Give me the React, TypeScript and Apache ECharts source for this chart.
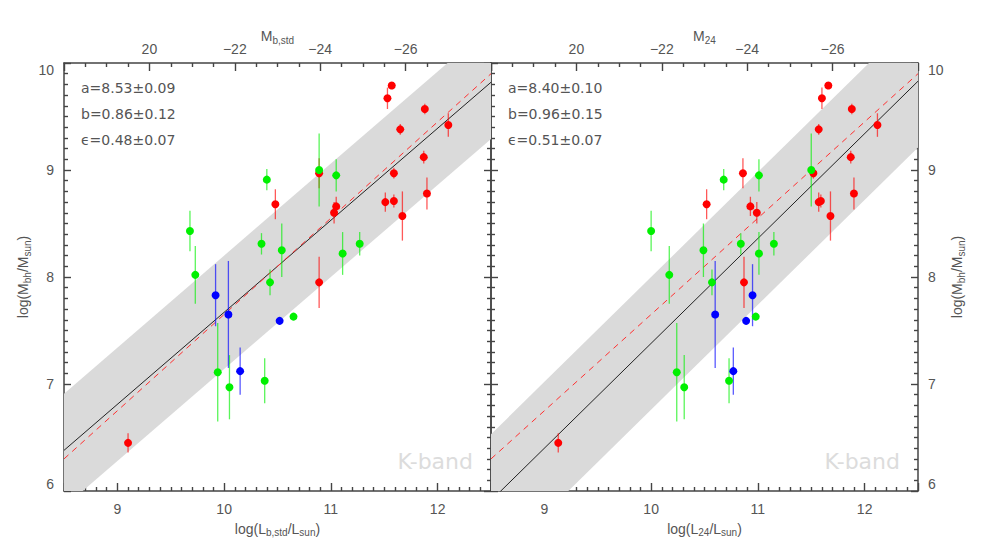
import React, { useEffect, useRef } from "react";
import * as echarts from "echarts";

// ---------- data ----------
// red points
const redY = [6.45, 9.67, 9.79, 9.57, 9.38, 9.42, 9.12, 8.97, 8.97, 8.78, 8.70, 8.71, 8.57, 8.68, 8.66, 8.60, 7.95];
const redXb = [9.10, 11.53, 11.57, 11.88, 11.65, 12.10, 11.87, 11.59, 10.89, 11.90, 11.51, 11.59, 11.67, 10.48, 11.05, 11.03, 10.89];
const redX24 = [9.13, 11.60, 11.66, 11.88, 11.57, 12.12, 11.87, 11.52, 10.86, 11.90, 11.57, 11.59, 11.68, 10.52, 10.93, 10.99, 10.87];
const redErr = [0.09, 0.10, 0.03, 0.05, 0.05, 0.11, 0.06, 0.05, 0.14, 0.15, 0.09, 0.06, 0.23, 0.14, 0.09, 0.10, 0.24];
// green points
const greenY = [9.00, 8.91, 8.95, 8.43, 8.31, 8.25, 8.31, 8.22, 8.02, 7.95, 7.63, 7.11, 6.97, 7.03];
const greenXb = [10.89, 10.40, 11.05, 9.68, 10.35, 10.54, 11.27, 11.11, 9.73, 10.43, 10.65, 9.94, 10.05, 10.38];
const greenX24 = [11.50, 10.68, 11.01, 10.00, 10.84, 10.49, 11.15, 11.01, 10.17, 10.57, 10.98, 10.24, 10.31, 10.73];
const greenErr = [0.34, 0.10, 0.15, 0.19, 0.10, 0.25, 0.11, 0.20, 0.27, 0.12, 0, 0.46, 0.30, 0.21];
// blue points
const blueY = [7.83, 7.65, 7.59, 7.12];
const blueXb = [9.92, 10.04, 10.52, 10.15];
const blueX24 = [10.95, 10.60, 10.89, 10.77];
const blueErr = [0.29, 0.50, 0, 0.22];

// fits: [value at pivot, slope], pivot logL = 11
const fitPivot = 11;
const fitB = [8.53, 0.86];
const fit24 = [8.36, 0.98];
const refLine = [8.55, 0.90];
const bandHalfWidth = [0.53, 0.62];
const xRange = [8.5, 12.5];
const yRange = [6, 10];
const magRange = [18, 28];

const annotB = ["a=8.53±0.09", "b=0.86±0.12", "ϵ=0.48±0.07"];
const annot24 = ["a=8.40±0.10", "b=0.96±0.15", "ϵ=0.51±0.07"];
const bandLabel = "K-band";

// ---------- styles ----------
const FONT = "'Liberation Sans', 'DejaVu Sans', Arial, sans-serif";
const TXT = "#555";
const FRAME = "#444";
const RED = "#ff0000";
const GREEN = "#00f000";
const BLUE = "#0000ff";

const grids = [
  { left: 64, top: 63, width: 427, height: 428 },
  { left: 491, top: 63, width: 427, height: 428 },
];

const richStyles = {
  m: { fontSize: 14, color: TXT, fontFamily: FONT, lineHeight: 16, verticalAlign: "top" },
  s: { fontSize: 10, color: TXT, fontFamily: FONT, lineHeight: 10, padding: [7, 0, 0, 0], verticalAlign: "bottom" },
};

const majorTick = { color: "#444", width: 1.4 };
const minorTickStyle = { color: "#444", width: 1.4 };

function App() {
  const ref = useRef<HTMLDivElement>(null);
  useEffect(() => {
    if (!ref.current) return;
    const chart = echarts.init(ref.current, undefined, { renderer: "svg" });

    const xAxes: any[] = [];
    const yAxes: any[] = [];
    const series: any[] = [];
    const panels = [
      { xs: [redXb, greenXb, blueXb], fit: fitB, bw: bandHalfWidth[0], xname: "{m|log(L}{s|b,std}{m|/L}{s|sun}{m|)}", tname: "{m|M}{s|b,std}", annot: annotB },
      { xs: [redX24, greenX24, blueX24], fit: fit24, bw: bandHalfWidth[1], xname: "{m|log(L}{s|24}{m|/L}{s|sun}{m|)}", tname: "{m|M}{s|24}", annot: annot24 },
    ];
    const ys = [redY, greenY, blueY];
    const errs = [redErr, greenErr, blueErr];
    const colors = [RED, GREEN, BLUE];

    panels.forEach((p, gi) => {
      xAxes.push({
        type: "value", gridIndex: gi, position: "bottom", min: xRange[0], max: xRange[1],
        name: p.xname, nameLocation: "middle", nameGap: 28,
        nameTextStyle: { rich: richStyles },
        axisLine: { show: true, onZero: false, lineStyle: { color: FRAME, width: 1.5 } },
        axisTick: { show: true, inside: true, length: 8, lineStyle: majorTick },
        minorTick: { show: true, splitNumber: 10, length: 4, lineStyle: minorTickStyle },
        splitLine: { show: false },
        axisLabel: {
          show: true, margin: 11, color: TXT, fontSize: 14, fontFamily: FONT,
          showMinLabel: false, showMaxLabel: false,
          formatter: (v: number) => (Number.isInteger(v) ? String(v) : ""),
        },
      });
      xAxes.push({
        type: "value", gridIndex: gi, position: "top", min: magRange[0], max: magRange[1], interval: 2,
        name: p.tname, nameLocation: "middle", nameGap: 18, nameMoveOverlap: false,
        nameTextStyle: { rich: richStyles },
        axisLine: { show: true, onZero: false, lineStyle: { color: FRAME, width: 1.5 } },
        axisTick: { show: true, inside: true, length: 8, lineStyle: majorTick },
        minorTick: { show: true, splitNumber: 4, length: 4, lineStyle: minorTickStyle },
        splitLine: { show: false },
        axisLabel: {
          show: true, margin: 7, color: TXT, fontSize: 14, fontFamily: FONT,
          showMinLabel: false, showMaxLabel: false,
          formatter: (v: number) => (v === 20 ? "20" : "\u2212" + v),
        },
      });
      ["left", "right"].forEach((pos) => {
        const labelled = (gi === 0 && pos === "left") || (gi === 1 && pos === "right");
        yAxes.push({
          type: "value", gridIndex: gi, position: pos, min: yRange[0], max: yRange[1], interval: 1,
          name: labelled ? "{m|log(M}{s|bh}{m|/M}{s|sun}{m|)}" : "",
          nameLocation: "middle", nameGap: 32, nameRotate: 90,
          nameTextStyle: { rich: richStyles },
          axisLine: { show: true, onZero: false, lineStyle: { color: FRAME, width: 1.5 } },
          axisTick: { show: true, inside: true, length: 7, lineStyle: majorTick },
          minorTick: { show: true, splitNumber: 10, length: 4, lineStyle: minorTickStyle },
          splitLine: { show: false },
          axisLabel: {
            show: labelled, margin: 10, color: TXT, fontSize: 14, fontFamily: FONT,
            verticalAlignMinLabel: "bottom", verticalAlignMaxLabel: "top",
          },
        });
      });

      const xi = gi * 2;
      const yi = gi * 2;
      const fit = p.fit;
      const bw = p.bw;
      series.push({
        type: "custom", xAxisIndex: xi, yAxisIndex: yi, clip: true, silent: true, z: 1,
        data: [[xRange[0], xRange[1]]],
        encode: { x: [0, 1] },
        renderItem: (_params: any, api: any) => {
          const x0 = api.value(0);
          const x1 = api.value(1);
          const f = (x: number) => fit[0] + fit[1] * (x - fitPivot);
          const pts = [
            [x0, f(x0) + bw], [x1, f(x1) + bw], [x1, f(x1) - bw], [x0, f(x0) - bw],
          ].map((q) => api.coord(q));
          return { type: "polygon", shape: { points: pts }, style: { fill: "#dadada" } };
        },
      });
      series.push({
        type: "line", xAxisIndex: xi, yAxisIndex: yi, symbol: "none", silent: true, z: 2, clip: true,
        data: xRange.map((x) => [x, fit[0] + fit[1] * (x - fitPivot)]),
        lineStyle: { color: "#222", width: 1 },
      });
      series.push({
        type: "line", xAxisIndex: xi, yAxisIndex: yi, symbol: "none", silent: true, z: 2, clip: true,
        data: xRange.map((x) => [x, refLine[0] + refLine[1] * (x - fitPivot)]),
        lineStyle: { color: "#ff3030", width: 1, type: [6, 5] },
      });
      colors.forEach((c, ci) => {
        const xs = p.xs[ci];
        series.push({
          type: "custom", xAxisIndex: xi, yAxisIndex: yi, silent: true, z: 3,
          data: xs.map((x, i) => [x, ys[ci][i], errs[ci][i]]),
          encode: { x: 0, y: 1 },
          renderItem: (_params: any, api: any) => {
            const x = api.value(0);
            const y = api.value(1);
            const e = api.value(2);
            if (!e) return { type: "group", children: [] };
            const a = api.coord([x, y - e]);
            const b = api.coord([x, y + e]);
            return {
              type: "line",
              shape: { x1: a[0], y1: a[1], x2: b[0], y2: b[1] },
              style: { stroke: c, lineWidth: 1.3, opacity: 0.65 },
            };
          },
        });
        series.push({
          type: "scatter", xAxisIndex: xi, yAxisIndex: yi, z: 4, silent: true,
          symbol: "circle", symbolSize: 8,
          data: xs.map((x, i) => [x, ys[ci][i]]),
          itemStyle: { color: c, opacity: 1 },
        });
      });
    });

    const graphic: any[] = [];
    panels.forEach((p, gi) => {
      const g = grids[gi];
      p.annot.forEach((t, i) => {
        graphic.push({
          type: "text", x: g.left + 17, y: 88 + i * 26, silent: true, z: 10,
          style: {
            text: t, fill: TXT, fontSize: 14, fontFamily: "'DejaVu Sans', sans-serif",
            verticalAlign: "middle", textVerticalAlign: "middle",
          },
        });
      });
      graphic.push({
        type: "text", x: g.left + g.width - 18, y: 461, silent: true, z: 10,
        style: {
          text: bandLabel, fill: "#dcdcdc", fontSize: 22, fontFamily: "'DejaVu Sans', sans-serif",
          align: "right", textAlign: "right", verticalAlign: "middle", textVerticalAlign: "middle",
        },
      });
    });

    chart.setOption({
      animation: false,
      backgroundColor: "#ffffff",
      grid: grids.map((g) => ({ ...g, containLabel: false })),
      xAxis: xAxes,
      yAxis: yAxes,
      series,
      graphic,
    });
    return () => chart.dispose();
  }, []);
  return <div ref={ref} style={{ position: "fixed", left: 0, top: 0, width: 981, height: 555 }} />;
}

export default App;
